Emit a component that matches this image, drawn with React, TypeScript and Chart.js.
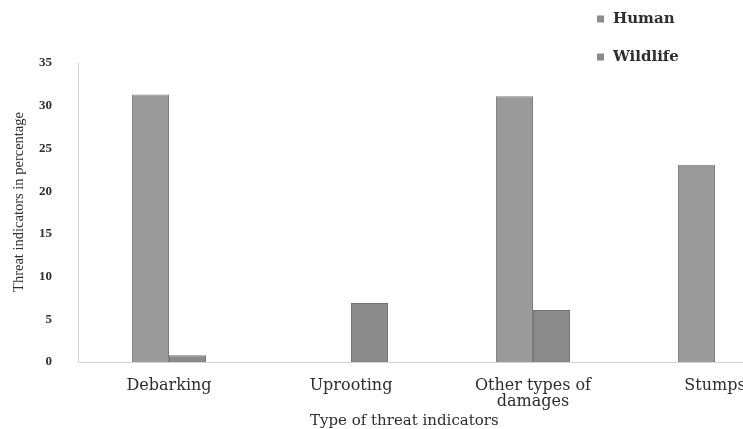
import React, { useEffect, useRef } from "react";
import { Chart, registerables } from "chart.js";

Chart.register(...registerables);

// Categories, series and axis text
const categories: (string | string[])[] = [
  "Debarking",
  "Uprooting",
  ["Other types of", "damages"],
  "Stumps",
];
const seriesNames = ["Human", "Wildlife"];
const humanValues = [31.3, 0, 31.1, 23.1];
const wildlifeValues = [0.8, 6.9, 6.1, 0];
const yMin = 0;
const yMax = 35;
const yStep = 5;
const xAxisTitle = "Type of threat indicators";
const yAxisTitle = "Threat indicators in percentage";

const TEXT = "#2e2e2e";
const WIDE_SERIF = "'DejaVu Serif', serif";
const SERIF = "'Liberation Serif', 'Times New Roman', serif";
const AXIS_LINE = "#d4d4d4";

const CANVAS_W = 806;
const CANVAS_H = 429;

// Legend drawn in the upper right corner, stacked vertically
const cornerLegend = {
  id: "cornerLegend",
  afterDraw(chart: any) {
    const { ctx } = chart;
    ctx.save();
    ctx.font = `bold 15px ${WIDE_SERIF}`;
    ctx.textBaseline = "middle";
    ctx.textAlign = "left";
    chart.data.datasets.forEach((ds: any, i: number) => {
      const y = 19 + i * 38;
      ctx.fillStyle = ds.legendColor;
      ctx.fillRect(597, y - 3.5, 7, 7);
      ctx.fillStyle = TEXT;
      ctx.fillText(ds.label, 613, y);
    });
    ctx.restore();
  },
};

// Axis titles: horizontal one under the middle categories, vertical one at the left edge
const axisTitles = {
  id: "axisTitles",
  afterDraw(chart: any) {
    const { ctx } = chart;
    ctx.save();
    ctx.fillStyle = TEXT;

    ctx.font = `15px ${WIDE_SERIF}`;
    ctx.textAlign = "left";
    ctx.textBaseline = "alphabetic";
    ctx.fillText(xAxisTitle, 310, 425);

    ctx.translate(19, 202);
    ctx.rotate(-Math.PI / 2);
    ctx.font = `14.5px ${SERIF}`;
    ctx.textAlign = "center";
    ctx.textBaseline = "middle";
    ctx.fillText(yAxisTitle, 0, 0);
    ctx.restore();
  },
};

export default function App() {
  const canvasRef = useRef<HTMLCanvasElement | null>(null);

  useEffect(() => {
    const canvas = canvasRef.current;
    if (!canvas) return;
    const chart = new Chart(canvas, {
      type: "bar",
      data: {
        labels: categories,
        datasets: [
          {
            label: seriesNames[0],
            data: humanValues,
            backgroundColor: "#9a9a9a",
            borderColor: "#7e7e7e",
            borderWidth: 1,
            legendColor: "#8c8c8c",
          } as any,
          {
            label: seriesNames[1],
            data: wildlifeValues,
            backgroundColor: "#8a8a8a",
            borderColor: "#747474",
            borderWidth: 1,
            legendColor: "#8a8a8a",
          } as any,
        ],
      },
      options: {
        responsive: false,
        animation: false,
        devicePixelRatio: 1,
        layout: { padding: { top: 63, left: 0, right: 0, bottom: 0 } },
        datasets: {
          bar: { categoryPercentage: 0.407, barPercentage: 1 },
        },
        plugins: {
          legend: { display: false },
          tooltip: { enabled: false },
        },
        scales: {
          x: {
            grid: { display: false, drawTicks: false },
            border: { display: true, color: AXIS_LINE, width: 1 },
            ticks: {
              color: TEXT,
              padding: 16,
              maxRotation: 0,
              autoSkip: false,
              font: { family: WIDE_SERIF, size: 16, lineHeight: 1.0 },
            },
            afterFit: (scale: any) => {
              scale.height = 67;
            },
          },
          y: {
            min: yMin,
            max: yMax,
            grid: { display: false, drawTicks: false },
            border: { display: true, color: AXIS_LINE, width: 1 },
            ticks: {
              stepSize: yStep,
              color: TEXT,
              padding: 26,
              font: { family: SERIF, size: 13, weight: "bold" },
            },
            afterFit: (scale: any) => {
              scale.width = 78;
            },
          },
        },
      },
      plugins: [cornerLegend, axisTitles],
    });
    return () => chart.destroy();
  }, []);

  return (
    <div
      style={{
        position: "fixed",
        left: 0,
        top: 0,
        width: 743,
        height: 429,
        overflow: "hidden",
        background: "#ffffff",
      }}
    >
      <canvas ref={canvasRef} width={CANVAS_W} height={CANVAS_H} />
    </div>
  );
}
